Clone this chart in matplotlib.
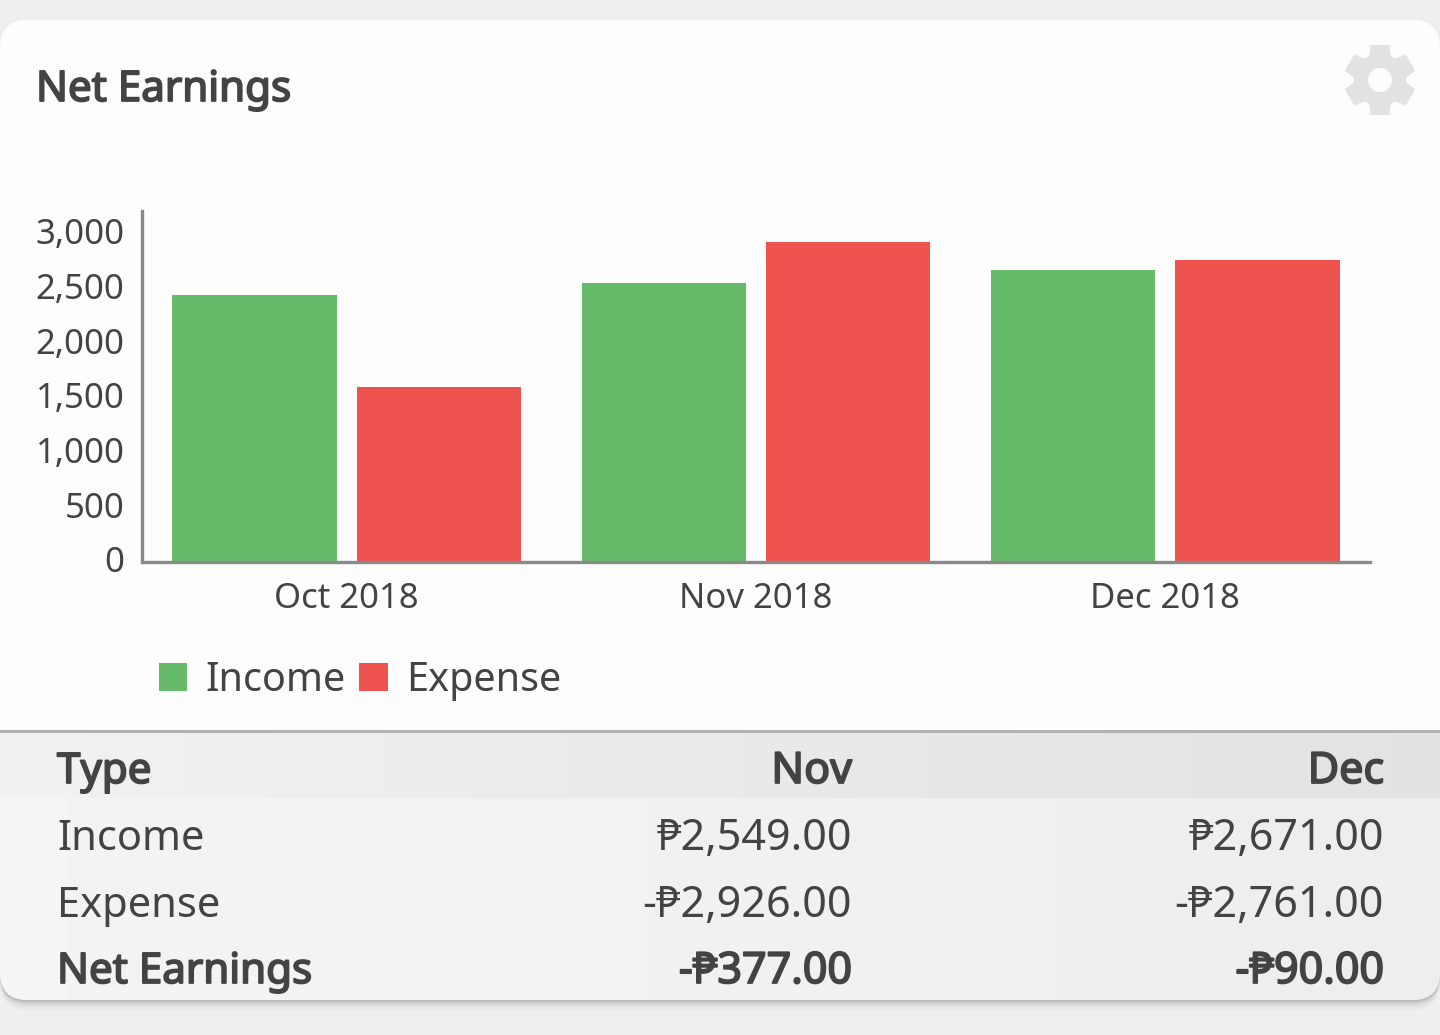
#!/usr/bin/env python3
"""Net Earnings card: Income / Expense bars with a small summary table."""

import matplotlib

matplotlib.use("Agg")
import matplotlib.patheffects as pe
import matplotlib.pyplot as plt
import numpy as np
from matplotlib.patches import Circle, FancyBboxPatch, Polygon, Rectangle
from matplotlib.transforms import ScaledTranslation

plt.rcParams["font.family"] = ["Noto Sans", "DejaVu Sans"]

MONTHS = ["Oct 2018", "Nov 2018", "Dec 2018"]
INCOME = [2440, 2549, 2671]
EXPENSE = [1600, 2926, 2761]
Y_TICKS = [0, 500, 1000, 1500, 2000, 2500, 3000]

TABLE_HEADER = ["Type", "Nov", "Dec"]
ROW_TYPES = ["Income", "Expense", "Net Earnings"]
NOV_VALUES = ["₱2,549.00", "-₱2,926.00", "-₱377.00"]
DEC_VALUES = ["₱2,671.00", "-₱2,761.00", "-₱90.00"]

COLORS = {"income": "#66BB6A", "expense": "#EF5350"}
TEXT = "#434343"
W, H = 1440, 1035

FS_LABEL = 30
FS_TITLE = 30.3
FS_VALUE = 31
FS_LEGEND = 28.5
FS_TICK = 25

# the installed Noto Sans only has a regular weight, thicken it for the bold rows
HEAVY = [pe.withStroke(linewidth=1.3, foreground=TEXT)]


def to_fig(x0, y0, x1, y1):
    """Pixel box (top-left origin) to figure fractions for add_axes."""
    return [x0 / W, 1 - y1 / H, (x1 - x0) / W, (y1 - y0) / H]


def rounded(x0, y0, x1, y1, r, **kw):
    return FancyBboxPatch(
        (x0 + r, y0 + r), x1 - x0 - 2 * r, y1 - y0 - 2 * r,
        boxstyle=f"round,pad={r},rounding_size={r}", **kw,
    )


def draw_gear(ax, cx, cy):
    """Six-tooth settings icon."""
    pts = []
    for k in range(6):
        a = np.deg2rad(60 * k - 90)
        for r, da in [(25.5, -24), (35.5, -14.5), (35.5, 14.5), (25.5, 24)]:
            pts.append((cx + r * np.cos(a + np.deg2rad(da)), cy + r * np.sin(a + np.deg2rad(da))))
    ax.add_patch(Polygon(pts, closed=True, facecolor="#E2E2E2", edgecolor="#E2E2E2",
                         linewidth=1, joinstyle="round"))
    ax.add_patch(Circle((cx, cy), 12, facecolor="#FDFDFD", edgecolor="none"))


def draw_card(ax):
    ax.set_xlim(0, W)
    ax.set_ylim(H, 0)
    ax.axis("off")
    # soft shadow under the card
    for grow, alpha in [(10, 0.025), (7, 0.04), (4, 0.07), (2, 0.09)]:
        ax.add_patch(rounded(0, 24, W, 1000 + grow, 28, facecolor="black",
                             edgecolor="none", alpha=alpha))
    card = rounded(0, 20, W, 1000, 28, facecolor="#FDFDFD", edgecolor="none")
    ax.add_patch(card)

    # table backgrounds are faint left-to-right gradients, clipped to the card
    rows = np.linspace(0.958, 0.93, 64).reshape(1, -1)
    head = np.linspace(0.945, 0.885, 64).reshape(1, -1)
    for grad, y0, y1 in [(rows, 731, 1001), (head, 731, 798)]:
        im = ax.imshow(grad, cmap="gray", vmin=0, vmax=1, extent=(0, W, y1, y0),
                       aspect="auto", zorder=1)
        im.set_clip_path(card)
    ax.set_xlim(0, W)
    ax.set_ylim(H, 0)
    ax.add_patch(Rectangle((0, 730), W, 2.5, facecolor="#B2B2B2", edgecolor="none", zorder=2))

    ax.text(36, 90, "Net Earnings", fontsize=FS_TITLE, color=TEXT, va="center", ha="left",
            path_effects=HEAVY)
    draw_gear(ax, 1380, 80)


def draw_table(ax):
    ys = [772, 839, 906, 972]
    bold = [True, False, False, True]
    rows = [TABLE_HEADER] + [
        [ROW_TYPES[i], NOV_VALUES[i], DEC_VALUES[i]] for i in range(len(ROW_TYPES))
    ]
    for y, row, is_bold in zip(ys, rows, bold):
        effects = HEAVY if is_bold else None
        for i, (x, ha, label) in enumerate(zip([57, 852, 1384], ["left", "right", "right"], row)):
            ax.text(x, y, label, fontsize=FS_TITLE if i == 0 and is_bold else FS_LABEL if i == 0 else FS_VALUE,
                    color=TEXT, ha=ha, va="center", zorder=3, path_effects=effects)


fig = plt.figure(figsize=(W / 100, H / 100), dpi=100, facecolor="#EEEEEE")
bg = fig.add_axes([0, 0, 1, 1])
draw_card(bg)
draw_table(bg)

ax = fig.add_axes(to_fig(142, 211, 1370, 562))
ax.patch.set_alpha(0)
x = np.arange(len(MONTHS))
ax.bar(x - 0.225, INCOME, width=0.401, color=COLORS["income"], label="Income")
ax.bar(x + 0.225, EXPENSE, width=0.401, color=COLORS["expense"], label="Expense")
ax.set_xlim(-0.5, 2.5)
ax.set_ylim(0, 3210)
ax.set_xticks(x, MONTHS)
ax.set_yticks(Y_TICKS, [f"{v:,}" for v in Y_TICKS])
ax.tick_params(axis="x", length=0, pad=14.5, labelsize=FS_TICK, labelcolor=TEXT)
ax.tick_params(axis="y", length=0, pad=12.5, labelsize=FS_TICK, labelcolor=TEXT)
nudge = ScaledTranslation(0, 2.5 / 100, fig.dpi_scale_trans)
for label in ax.get_yticklabels():
    label.set_transform(label.get_transform() + nudge)
for side in ["top", "right"]:
    ax.spines[side].set_visible(False)
for side in ["left", "bottom"]:
    ax.spines[side].set_color("#8A8A8A")
    ax.spines[side].set_linewidth(2.4)

ax.legend(
    loc="center left",
    bbox_to_anchor=(159 / W, 1 - 681 / H),
    bbox_transform=fig.transFigure,
    frameon=False,
    ncol=2,
    fontsize=FS_LEGEND,
    labelcolor=TEXT,
    handlelength=0.71,
    handleheight=0.71,
    handletextpad=0.47,
    columnspacing=0.34,
    borderpad=0,
    borderaxespad=0,
)

fig.savefig("out.png", dpi=100, facecolor=fig.get_facecolor())
plt.close(fig)
